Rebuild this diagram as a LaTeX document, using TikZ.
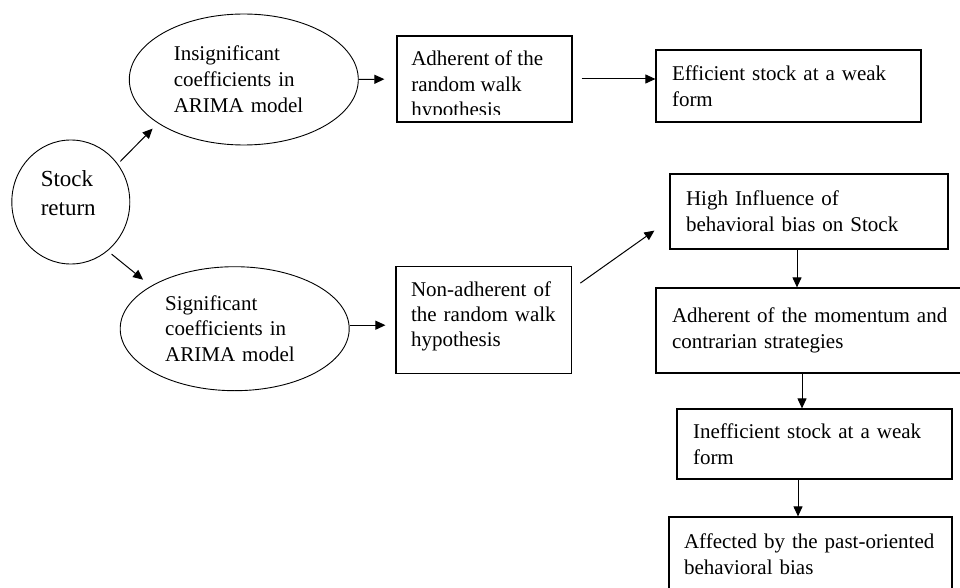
\documentclass[tikz,border=0pt]{standalone}
\usepackage{fontspec}
\setmainfont{Liberation Serif}
\usetikzlibrary{shapes.geometric,arrows.meta}

\begin{document}
\begin{tikzpicture}
        [x=1pt,y=-1pt,
        every node/.style={inner sep=0pt,align=left,font=\fontsize{21}{26}\selectfont},
        test/.style={ellipse,draw,line width=0.9pt},
        outcome/.style={rectangle,draw,line width=1.2pt,inner xsep=16pt,inner ysep=0pt},
        link/.style={-{Triangle[length=10pt,width=9pt]},line width=1pt},
        ]
        \useasboundingbox (0,0) rectangle (960,588);
        \clip (0,0) rectangle (960,588);
        \node[test,minimum width=118pt,minimum height=124pt,text width=60pt,text depth=46pt,font=\fontsize{23}{29}\selectfont] (ret) at (70.8,202) {Stock\\return};
        \node[test,minimum width=229pt,minimum height=131pt,text width=140pt] (insig) at (243.8,79.5) {Insignificant\\coefficients in\\ARIMA model};
        \node[test,minimum width=229pt,minimum height=124pt,text width=139pt,font=\fontsize{21}{25.5}\selectfont] (sig) at (234.7,328.7) {Significant\\coefficients in\\ARIMA model};
        \node[outcome,minimum width=175pt,minimum height=86pt] (rw) at (484.5,79) {};
        \begin{scope}
            \clip ([yshift=8pt]rw.south west) rectangle (rw.north east);
            \node[anchor=north west,font=\fontsize{21}{25.5}\selectfont] (rw-text) at ([xshift=14.7pt,yshift=-15.3pt]rw.north west) {Adherent of the\\random walk\\hypothesis};
        \end{scope}
        \node[outcome,minimum width=265pt,minimum height=72pt,text width=233pt] (eff) at (788.5,86) {Efficient stock at a weak\\form};
        \node[outcome,inner xsep=15pt,minimum width=175.7pt,minimum height=106.6pt,text width=145.7pt,text depth=62.5pt,font=\fontsize{21}{25}\selectfont] (nonrw) at (483.9,320) {Non-adherent of\\the random walk\\hypothesis};
        \node[outcome,minimum width=278pt,minimum height=75pt,text width=246pt] (high) at (809,211.5) {High Influence of\\behavioral bias on Stock};
        \node[outcome,minimum width=314pt,minimum height=85pt,text width=282pt] (mom) at (813,330.5) {Adherent of the momentum and\\contrarian strategies};
        \node[outcome,minimum width=275pt,minimum height=70pt,text width=243pt] (ineff) at (814.5,444) {Inefficient stock at a weak\\form};
        \node[outcome,inner xsep=15pt,minimum width=283pt,minimum height=74pt,text width=253pt] (aff) at (810.5,554) {Affected by the past-oriented\\behavioral bias};
        \draw[link,shorten <=3.5pt,shorten >=7.5pt] (ret.39) -- (insig.207);
        \draw[link,shorten <=5pt,shorten >=10pt] (ret.-53.5) -- (sig.153);
        \draw[link,shorten >=12pt] (insig.east) -- (rw.west);
        \draw[link,shorten <=9pt] (rw.east) -- (rw.east -| eff.west);
        \draw[link,shorten >=10pt] ([yshift=3.5pt]sig.east) -- ([yshift=3.5pt]sig.east -| nonrw.west);
        \draw[link] ([xshift=8pt,yshift=-17pt]nonrw.north east) -- ([xshift=-15pt,yshift=19pt]high.south west);
        \draw[link] ([xshift=-12pt]high.south) -- ([xshift=-12pt]high.south |- mom.north);
        \draw[link] ([xshift=-11pt]mom.south) -- ([xshift=-11pt]mom.south |- ineff.north);
        \draw[link] ([xshift=-16.5pt]ineff.south) -- ([xshift=-16.5pt]ineff.south |- aff.north);
    \end{tikzpicture}
\end{document}
